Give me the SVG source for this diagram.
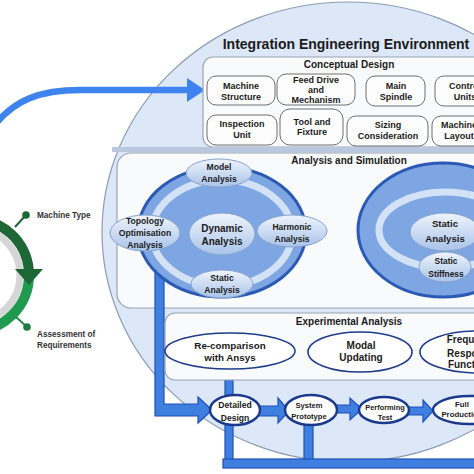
<svg xmlns="http://www.w3.org/2000/svg" width="474" height="474" viewBox="0 0 474 474">
<defs>
<linearGradient id="gsub" x1="0" y1="0" x2="0" y2="1">
<stop offset="0" stop-color="#eef4fc"/>
<stop offset="1" stop-color="#a9c3ea"/>
</linearGradient>
<style>
.t{font-family:"Liberation Sans",Arial,sans-serif;font-weight:bold;fill:#1b1b1b;text-anchor:middle}
.l{text-anchor:start;fill:#333}
.box{fill:#fdfdfd;stroke:#6e6e6e;stroke-width:1}
.panel{fill:#f9fafc;stroke:#9aa3b0;stroke-width:1.2}
.sub{fill:url(#gsub);stroke:#86a2cc;stroke-width:1}
.wel{fill:#fff;stroke:#1f3c88;stroke-width:1.6}
.fel{fill:#fff;stroke:#1c3a8c;stroke-width:2.5}
.pipe{fill:#3f7fe0;stroke:#1f50b5;stroke-width:1.2}
.big{fill:#7ea6e2;stroke:#2b5ab4;stroke-width:3}
.ring{fill:none;stroke:#d3e2f7;stroke-width:7}
</style>
</defs>
<rect width="474" height="474" fill="#fff"/>

<!-- big environment ellipse -->
<ellipse id="environment" cx="348" cy="232" rx="246" ry="230" fill="#dce7f7" stroke="#8c9cb3" stroke-width="1.2"/>

<!-- green ring -->
<g id="lifecycle">
<circle cx="-27" cy="275" r="47" fill="none" stroke="#d6d6d6" stroke-width="7"/>
<path d="M29,275 A56,56 0 0 1 -27,331" fill="none" stroke="#1f9a4e" stroke-width="10"/>
<path d="M-27,219 A56,56 0 0 1 28.8,270" fill="none" stroke="#1d6636" stroke-width="10"/>
<polygon points="15,269 43,269 29,285" fill="#1d6636"/>
<line x1="15" y1="227" x2="26" y2="215" stroke="#1d6636" stroke-width="2"/>
<circle cx="26" cy="215" r="3.8" fill="#1d6636"/>
<line x1="16" y1="317" x2="27" y2="327" stroke="#1f8a45" stroke-width="2"/>
<circle cx="27" cy="327" r="3.8" fill="#1f7a40"/>
<text class="t l" x="37" y="218" font-size="8.2">Machine Type</text>
<text class="t l" x="37" y="337" font-size="8.2">Assessment of</text>
<text class="t l" x="37" y="348" font-size="8.2">Requirements</text>
</g>

<!-- main arrow -->
<g id="connectors">
<path d="M-6,126 C14,100 40,90 80,90 H190" fill="none" stroke="#3f84ee" stroke-width="6.5"/>
<polygon points="187,78 205,90 187,102" fill="#3f84ee"/>
</g>

<text class="t" x="346" y="49" font-size="14" id="title">Integration Engineering Environment</text>

<!-- conceptual design -->
<g id="conceptual">
<rect class="panel" x="203" y="57" width="290" height="90" rx="10"/>
<text class="t" x="349" y="68" font-size="10">Conceptual Design</text>
</g>
<rect x="112" y="147" width="380" height="5" fill="#b9c8de"/>
<g id="machine-structure"><rect class="box" x="207" y="76" width="68" height="29" rx="9"/>
<text class="t" x="241" y="89" font-size="9">Machine</text><text class="t" x="241" y="100" font-size="9">Structure</text></g>
<g id="feed-drive"><rect class="box" x="277" y="74" width="78" height="31" rx="9"/>
<text class="t" x="316" y="83" font-size="9">Feed Drive</text><text class="t" x="316" y="93" font-size="9">and</text><text class="t" x="316" y="103" font-size="9">Mechanism</text></g>
<g id="main-spindle"><rect class="box" x="366" y="76" width="59" height="30" rx="9"/>
<text class="t" x="396" y="89" font-size="9">Main</text><text class="t" x="396" y="100" font-size="9">Spindle</text></g>
<g id="control-units"><rect class="box" x="435" y="76" width="62" height="30" rx="9"/>
<text class="t" x="465" y="89" font-size="9">Control</text><text class="t" x="465" y="100" font-size="9">Units</text></g>
<g id="inspection-unit"><rect class="box" x="207" y="115" width="70" height="30" rx="9" stroke="#404040"/>
<text class="t" x="242" y="127" font-size="9">Inspection</text><text class="t" x="242" y="138" font-size="9">Unit</text></g>
<g id="tool-fixture"><rect class="box" x="280" y="109" width="63" height="36" rx="10"/>
<text class="t" x="312" y="125" font-size="9">Tool and</text><text class="t" x="312" y="135" font-size="9">Fixture</text></g>
<g id="sizing"><rect class="box" x="347" y="116" width="81" height="30" rx="9"/>
<text class="t" x="388" y="128" font-size="9">Sizing</text><text class="t" x="388" y="139" font-size="9">Consideration</text></g>
<g id="machine-layout"><rect class="box" x="432" y="116" width="64" height="30" rx="9"/>
<text class="t" x="459" y="128" font-size="9">Machine</text><text class="t" x="459" y="139" font-size="9">Layout</text></g>

<!-- analysis and simulation -->
<g id="analysis">
<rect class="panel" x="117" y="153" width="380" height="155" rx="14"/>
<text class="t" x="349" y="164" font-size="10">Analysis and Simulation</text>
</g>

<!-- left pipe behind ellipse -->
<g id="connectors-pipes">
<path class="pipe" d="M155,268 V416 H198 V423 L212,410 L198,397 V404 H164 V268 Z"/>
<rect class="pipe" x="225" y="368" width="8" height="28"/>
<rect class="pipe" x="225" y="423" width="8" height="40"/>
<rect class="pipe" x="304" y="424" width="9" height="37"/>
<rect class="pipe" x="223" y="459" width="260" height="9"/>
<path class="pipe" d="M259,406 H278 V398 L289,411 L278,423 V416 H259 Z"/>
<path class="pipe" d="M336,405 H350 V398 L362,409 L350,420 V413 H336 Z"/>
<path class="pipe" d="M406,407 H423 V400 L433,411 L423,422 V415 H406 Z"/>
</g>

<g id="dynamic-group">
<ellipse class="big" cx="222" cy="232" rx="84" ry="65"/>
<ellipse class="ring" cx="222" cy="233" rx="70" ry="53"/>
</g>
<g id="model-analysis"><ellipse class="sub" cx="219" cy="173" rx="33" ry="14"/>
<text class="t" x="219" y="170" font-size="8.6">Model</text><text class="t" x="219" y="182" font-size="8.6">Analysis</text></g>
<g id="topology"><ellipse class="sub" cx="145" cy="233" rx="35" ry="18"/>
<text class="t" x="145" y="224" font-size="8.6">Topology</text><text class="t" x="145" y="236" font-size="8.6">Optimisation</text><text class="t" x="145" y="248" font-size="8.6">Analysis</text></g>
<g id="dynamic-analysis"><ellipse class="sub" cx="222" cy="234" rx="33" ry="21"/>
<text class="t" x="222" y="232" font-size="10">Dynamic</text><text class="t" x="222" y="245" font-size="10">Analysis</text></g>
<g id="harmonic"><ellipse class="sub" cx="292" cy="231" rx="35" ry="16"/>
<text class="t" x="292" y="230" font-size="8.5">Harmonic</text><text class="t" x="292" y="242" font-size="8.5">Analysis</text></g>
<g id="static-analysis-l"><ellipse class="sub" cx="222" cy="284" rx="31" ry="14"/>
<text class="t" x="222" y="281" font-size="8.6">Static</text><text class="t" x="222" y="293" font-size="8.6">Analysis</text></g>

<g id="static-group">
<ellipse class="big" cx="443" cy="230" rx="85" ry="67"/>
<ellipse class="ring" cx="445" cy="230" rx="66" ry="38"/>
</g>
<g id="static-analysis-r"><ellipse class="sub" cx="445" cy="232" rx="35" ry="19"/>
<text class="t" x="445" y="227" font-size="9.6">Static</text><text class="t" x="445" y="242" font-size="9.6">Analysis</text></g>
<g id="static-stiffness"><ellipse class="sub" cx="445" cy="267" rx="26" ry="15"/>
<text class="t" x="446" y="264" font-size="8.4">Static</text><text class="t" x="446" y="277" font-size="8.4">Stiffness</text></g>

<!-- experimental analysis -->
<g id="experimental">
<rect class="panel" x="165" y="313" width="330" height="67" rx="10"/>
<text class="t" x="349" y="325" font-size="10">Experimental Analysis</text>
</g>
<g id="recomparison"><ellipse class="wel" cx="230" cy="351" rx="65" ry="18"/>
<text class="t" x="230" y="349" font-size="9.8">Re-comparison</text><text class="t" x="230" y="361" font-size="9.8">with Ansys</text></g>
<g id="modal-updating"><ellipse class="wel" cx="360" cy="352" rx="52" ry="20"/>
<text class="t" x="361" y="349" font-size="10">Modal</text><text class="t" x="361" y="361" font-size="10">Updating</text></g>
<g id="frf"><ellipse class="wel" cx="478" cy="352" rx="58" ry="21"/>
<text class="t" x="472" y="343" font-size="10">Frequency</text><text class="t" x="471" y="357" font-size="10">Response</text><text class="t" x="469" y="368" font-size="10">Function</text></g>

<!-- flow -->
<g id="detailed-design"><ellipse class="fel" cx="235" cy="410" rx="25" ry="15"/>
<text class="t" x="235" y="408" font-size="8.6">Detailed</text><text class="t" x="235" y="421" font-size="8.6">Design</text></g>
<g id="system-prototype"><ellipse class="fel" cx="311" cy="410" rx="26" ry="15"/>
<text class="t" x="309" y="408" font-size="7.6">System</text><text class="t" x="309" y="419" font-size="7.6">Prototype</text></g>
<g id="performing-test"><ellipse class="fel" cx="384" cy="410" rx="25" ry="13"/>
<text class="t" x="385" y="410" font-size="7.4">Performing</text><text class="t" x="385" y="420" font-size="7.4">Test</text></g>
<g id="full-production"><ellipse class="fel" cx="469" cy="410" rx="36" ry="14"/>
<text class="t" x="462" y="407" font-size="7.8">Full</text><text class="t" x="462" y="417" font-size="7.8">Production</text></g>
</svg>
